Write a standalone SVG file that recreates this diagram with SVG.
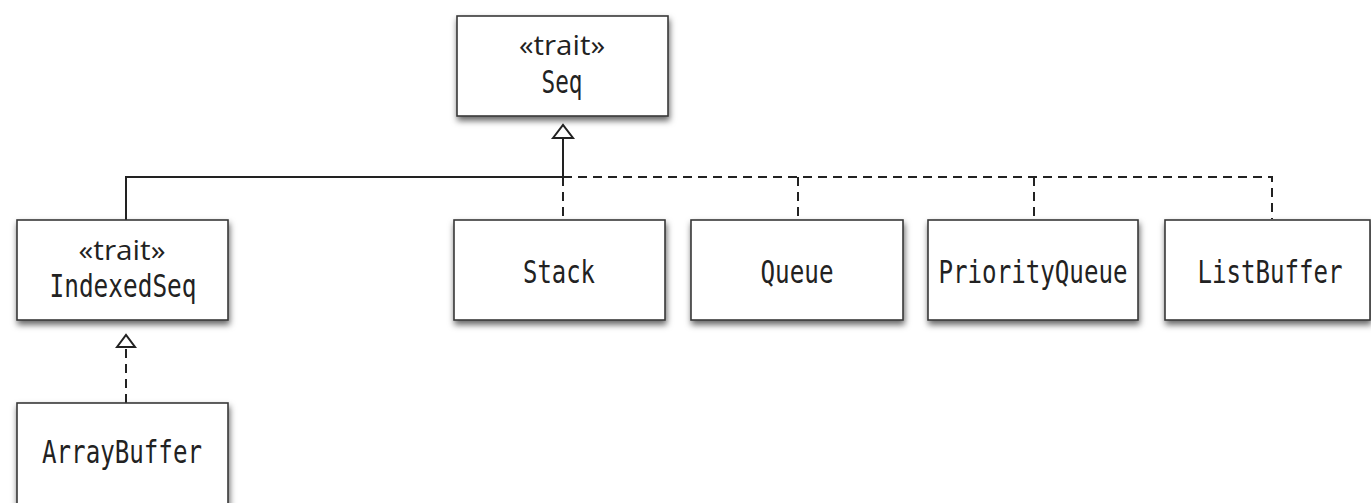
<svg xmlns="http://www.w3.org/2000/svg" width="1371" height="503" viewBox="0 0 1371 503">
<style>
.box{fill:#fff;stroke:#3a3a3a;stroke-width:1.6;filter:url(#sh)}
.nm{font-family:"DejaVu Sans Mono",monospace;font-size:32px;fill:#222;text-anchor:middle}
.st{font-family:"Open Sans","Liberation Sans",sans-serif;font-size:27px;fill:#222;text-anchor:middle}
.ln{fill:none;stroke:#222;stroke-width:2}
.ds{fill:none;stroke:#222;stroke-width:2;stroke-dasharray:9,6}
.ah{fill:#fff;stroke:#222;stroke-width:2}
</style>
<defs>
<filter id="sh" x="-10%" y="-10%" width="125%" height="135%">
<feDropShadow dx="1" dy="4" stdDeviation="3" flood-color="#000" flood-opacity="0.6"/>
</filter>
</defs>
<g id="connectors">
<path class="ln" d="M563,126 L563,177 M126,220 L126,177 L563,177"/>
<path class="ah" d="M553,138 L563,125 L573,138 Z"/>
<path class="ds" d="M563,177 L1272,177 L1272,219 M563,177 L563,219 M798,177 L798,219 M1034,177 L1034,219"/>
<path class="ds" d="M126,403 L126,347"/>
<path class="ah" d="M117,347 L126,335 L135,347 Z"/>
</g>
<g id="Seq">
<rect class="box" x="457" y="16" width="211" height="100"/>
<text class="st" x="562" y="55" textLength="86" lengthAdjust="spacingAndGlyphs">«trait»</text>
<text class="nm" x="562" y="93" textLength="41" lengthAdjust="spacingAndGlyphs">Seq</text>
</g>
<g id="IndexedSeq">
<rect class="box" x="17" y="220" width="211" height="100"/>
<text class="st" x="122" y="260" textLength="87" lengthAdjust="spacingAndGlyphs">«trait»</text>
<text class="nm" x="123" y="297" textLength="147" lengthAdjust="spacingAndGlyphs">IndexedSeq</text>
</g>
<g id="ArrayBuffer">
<rect class="box" x="17" y="403" width="211" height="110"/>
<text class="nm" x="122" y="463" textLength="160" lengthAdjust="spacingAndGlyphs">ArrayBuffer</text>
</g>
<g id="Stack">
<rect class="box" x="454" y="220" width="211" height="100"/>
<text class="nm" x="559" y="283" textLength="72" lengthAdjust="spacingAndGlyphs">Stack</text>
</g>
<g id="Queue">
<rect class="box" x="691" y="220" width="212" height="100"/>
<text class="nm" x="797" y="283" textLength="73" lengthAdjust="spacingAndGlyphs">Queue</text>
</g>
<g id="PriorityQueue">
<rect class="box" x="928" y="220" width="210" height="100"/>
<text class="nm" x="1033" y="283" textLength="189" lengthAdjust="spacingAndGlyphs">PriorityQueue</text>
</g>
<g id="ListBuffer">
<rect class="box" x="1165" y="220" width="205" height="100"/>
<text class="nm" x="1270" y="283" textLength="145" lengthAdjust="spacingAndGlyphs">ListBuffer</text>
</g>
</svg>
